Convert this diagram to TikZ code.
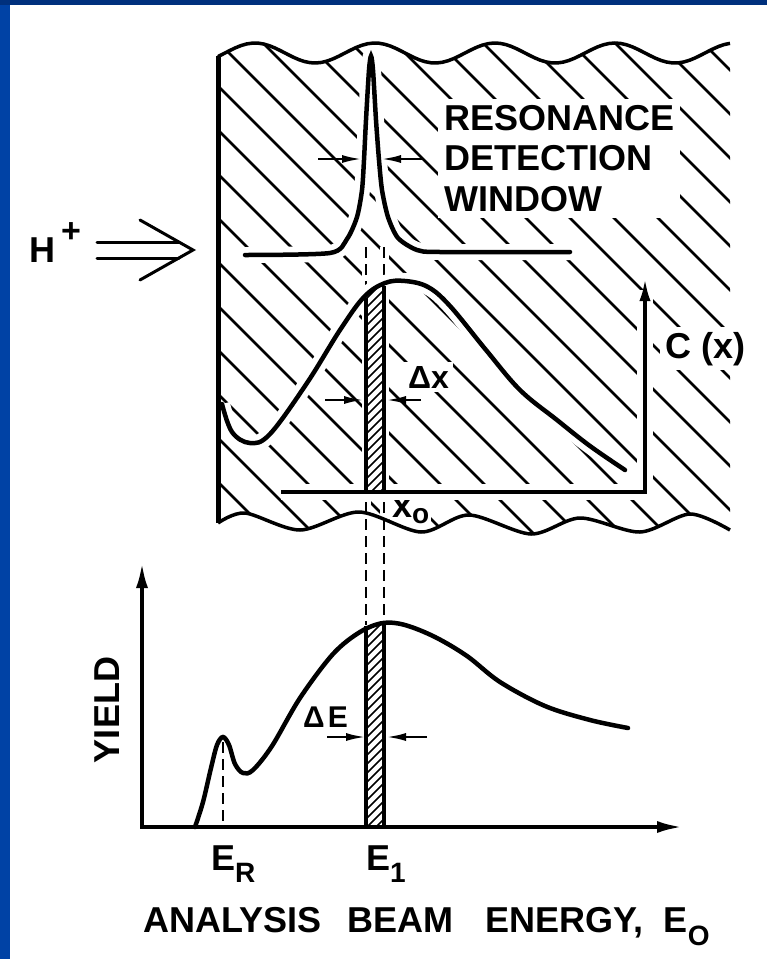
\documentclass[tikz,border=0pt]{standalone}
\usepackage{fontspec}
\setmainfont{Liberation Sans}
\usetikzlibrary{arrows.meta}
\usetikzlibrary{math}
\definecolor{qnavy}{RGB}{0,48,125}
\definecolor{qframe}{RGB}{0,66,165}
\newcommand{\lowsub}[2][12pt]{\raisebox{-#1}{\fontsize{28}{28}\selectfont #2}}

\begin{document}
\begin{tikzpicture}[x=1pt, y=-1pt,
  lbl/.style={font=\fontsize{36}{40.5}\selectfont\bfseries, inner sep=0},
  halo/.style={preaction={draw=white, line width=16}},
  tip/.style={-{Latex[length=20pt, width=8pt]}},
  dashline/.style={line width=2.6, dash pattern=on 11pt off 6pt},
  hatchline/.style={line width=2.6},
  fineline/.style={line width=1.6}]
\tikzmath{
\xa = 366;
\xb = 384;
\ya = 492;
\yb = 827;
}

\useasboundingbox (0,0) rectangle (767,959);
\fill[white] (0,0) rectangle (767,959);
\fill[qframe] (0,0) rectangle (10,959);
\fill[qnavy] (0,0) rectangle (767,5);

\def\cxcurve{plot[smooth, tension=0.6] coordinates {(222,404) (232,432) (250,443) (270,434) (307,383) (340,330) (364,297) (385,283) (405,281) (428,287) (450,306) (486,350) (520,390) (557,420) (590,446) (625,470)}}
\def\ycurve{plot[smooth, tension=0.55] coordinates {(195,827) (203,802) (211,768) (217,745) (223,737) (229,745) (235,764) (243,773) (253,770) (272,746) (300,698) (333,654) (360,632) (383,623) (405,625) (435,637) (467,656) (500,682) (545,706) (590,720) (628,728)}}
\def\topwave{plot[domain=218:730, samples=90] (\x, {53-10*cos(3*(\x-255))})}
\def\botwave{plot[smooth] coordinates {(218,523) (245,513) (300,530) (359,512) (421,532) (469,515) (531,534) (580,518) (640,532) (690,514) (730,530)}}

\begin{scope}
\clip \topwave -- plot[smooth] coordinates {(730,530) (690,514) (640,532) (580,518) (531,534) (469,515) (421,532) (359,512) (300,530) (245,513) (218,523)} -- cycle;
\foreach \k in {-17,...,8}
  \draw[hatchline] (150,{150+44*\k}) -- (800,{800+44*\k});
\end{scope}

\node[lbl, fill=white, align=left, inner sep=6, anchor=north west] (window) at (438,99) {RESONANCE\\DETECTION\\WINDOW};
\node[lbl, fill=white, inner sep=5, anchor=base west] (cxlabel) at (660,358) {C (x)};
\node[lbl, font=\fontsize{32}{32}\selectfont\bfseries, fill=white, inner sep=4, anchor=base west] (dx) at (404,388) {Δx};
\node[lbl, fill=white, inner sep=2, anchor=base west] (xo) at (390,517) {x\lowsub[6pt]{o}};

\draw[dashline, preaction={draw=white, line width=9, solid}] (\xa,247) -- (\xa,625);
\draw[dashline, preaction={draw=white, line width=9, solid}] (\xb,247) -- (\xb,623);

\draw[white, line width=16] \cxcurve;
\draw[white, line width=16] (281,\ya) -- (645,\ya) -- (645,290);
\begin{scope}
\clip \cxcurve -- (625,\ya) -- (222,\ya) -- cycle;
\clip (\xa,270) rectangle (\xb,\ya);
\fill[white] (\xa,270) rectangle (\xb,\ya);
\foreach \c in {620,629,...,900}
  \draw[fineline] (340,{\c-340}) -- (410,{\c-410});
\end{scope}
\draw[line width=3.5] (\xa,298) -- (\xa,\ya) (\xb,286) -- (\xb,\ya);
\draw[line width=4.5, line cap=round] \cxcurve;
\draw[line width=4, -{Latex[length=24pt, width=11pt]}] (281,\ya) -- (645,\ya) -- (645,277);

\draw[line width=4.5, line cap=round, halo] plot[smooth, tension=0.45] coordinates {(245,255) (330,253) (347,239) (357,217) (362,190) (364,160) (366,120) (369,70) (371,56) (373,70) (376,120) (379,160) (382,190) (388,217) (398,238) (417,250) (440,252) (570,252)};
\draw[line width=2.5, tip] (318,159) -- (362,159);
\draw[line width=2.5, tip] (422,159) -- (381,159);
\draw[line width=2.5, tip] (325,400) -- (364,400);
\draw[line width=2.5, tip] (421,400) -- (386,400);

\draw[line width=3.5] \topwave;
\draw[line width=3.5] \botwave;
\draw[line width=5] (218,56) -- (218,523);

\node[lbl, anchor=base west] (hplus) at (29,262) {H\hspace{6pt}\raisebox{20pt}{\fontsize{34}{34}\selectfont +}};
\draw[line width=3, line cap=round] (97,242) -- (179,242) (97,258) -- (179,258);
\draw[line width=3, line cap=round] (140,220) -- (193,250) -- (140,280);

\draw[dashline] (223,742) -- (223,\yb);
\begin{scope}
\clip \ycurve -- (628,\yb) -- (195,\yb) -- cycle;
\clip (\xa,600) rectangle (\xb,\yb);
\fill[white] (\xa,600) rectangle (\xb,\yb);
\foreach \c in {960,969,...,1230}
  \draw[fineline] (340,{\c-340}) -- (410,{\c-410});
\end{scope}
\draw[line width=3.5] (\xa,626) -- (\xa,\yb) (\xb,624) -- (\xb,\yb);
\draw[line width=4.5, line cap=round] \ycurve;
\draw[line width=4, {Latex[length=26pt, width=12pt]}-{Latex[length=26pt, width=12pt]}] (142,562) -- (142,\yb) -- (683,\yb);
\draw[line width=2.5, tip] (327,737) -- (366,737);
\draw[line width=2.5, tip] (427,737) -- (386,737);

\node[lbl, rotate=90] (yield) at (107,710) {YIELD};
\node[lbl, font=\fontsize{30}{30}\selectfont\bfseries, anchor=base west] (de) at (303,727) {Δ\hspace{3pt}E};
\node[lbl, anchor=base west] (er) at (211,870) {E\lowsub{R}};
\node[lbl, anchor=base west] (eone) at (366,870) {E\lowsub{1}};
\node[lbl, anchor=base west] (energy) at (143,932) {ANALYSIS\hspace{26pt}BEAM\hspace{32pt}ENERGY,\hspace{20pt}E\lowsub[13pt]{O}};

\end{tikzpicture}
\end{document}
